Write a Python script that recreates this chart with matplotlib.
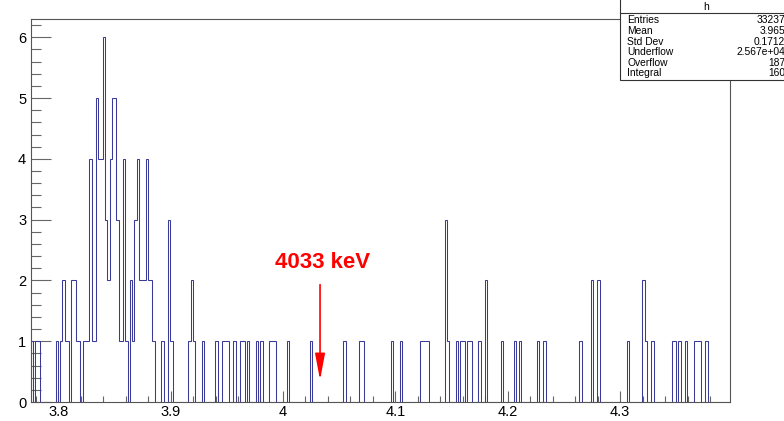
import numpy as np
import matplotlib
matplotlib.use("Agg")
import matplotlib.pyplot as plt
from matplotlib.patches import Rectangle
from matplotlib.lines import Line2D
from matplotlib.ticker import MultipleLocator, FuncFormatter

plt.rcParams['font.family'] = ['Liberation Sans', 'DejaVu Sans']

# histogram binning (MeV), 2 keV bins
bin_lo = 3.7758
bin_width = 0.002
n_bins = 311

# non-empty bins: bin centre (MeV) and content
energy_peak = [3.7768, 3.7808, 3.7828, 3.7988, 3.8028, 3.8048, 3.8068, 3.8088,
               3.8128, 3.8148, 3.8168, 3.8188, 3.8228, 3.8248, 3.8268, 3.8288,
               3.8308, 3.8328, 3.8348, 3.8368, 3.8388, 3.8408, 3.8428, 3.8448,
               3.8468, 3.8488, 3.8508, 3.8528, 3.8548, 3.8568, 3.8588, 3.8608,
               3.8648, 3.8668, 3.8688, 3.8708, 3.8728, 3.8748, 3.8768, 3.8788,
               3.8808, 3.8828, 3.8848, 3.8928, 3.8988, 3.9008]
counts_peak = [1, 1, 1, 1, 1, 2, 1, 1,
               2, 2, 1, 1, 1, 1, 1, 4,
               1, 1, 5, 4, 4, 6, 3, 2,
               4, 5, 5, 3, 1, 1, 4, 1,
               2, 1, 3, 4, 2, 2, 2, 4,
               2, 2, 1, 1, 3, 1]

energy_tail = [3.9168, 3.9188, 3.9208, 3.9288, 3.9408, 3.9468, 3.9488, 3.9508,
               3.9568, 3.9628, 3.9648, 3.9688, 3.9768, 3.9808, 3.9888, 3.9908,
               3.9928, 4.0048, 4.0248, 4.0548, 4.0688, 4.0708, 4.0968, 4.1048,
               4.1228, 4.1248, 4.1268, 4.1288, 4.1448, 4.1468, 4.1548, 4.1588,
               4.1608, 4.1648, 4.1668, 4.1748, 4.1808, 4.1948, 4.2068, 4.2108,
               4.2268, 4.2328, 4.2648, 4.2748, 4.2808, 4.3068, 4.3208, 4.3228,
               4.3288, 4.3468, 4.3488, 4.3528, 4.3588, 4.3668, 4.3688, 4.3708,
               4.3768]
counts_tail = [1, 2, 1, 1, 1, 1, 1, 1,
               1, 1, 1, 1, 1, 1, 1, 1,
               1, 1, 1, 1, 1, 1, 1, 1,
               1, 1, 1, 1, 3, 1, 1, 1,
               1, 1, 1, 1, 2, 1, 1, 1,
               1, 1, 1, 2, 2, 1, 2, 1,
               1, 1, 1, 1, 1, 1, 1, 1,
               1]

line_energy = 4.033
line_label = "4033 keV"

stats_title = "h"
stats_names = ["Entries", "Mean", "Std Dev", "Underflow", "Overflow", "Integral"]
stats_values = ["33237", "3.965", "0.1712", "2.567e+04", "187", "160"]

energy = energy_peak + energy_tail
counts = counts_peak + counts_tail
edges = bin_lo + bin_width * np.arange(n_bins + 1)

W, H = 784, 421
fig = plt.figure(figsize=(W / 100, H / 100), dpi=100)
ax = fig.add_axes([31 / W, 19 / H, 699 / W, 383 / H])

ax.hist(energy, bins=edges, weights=counts, histtype='step',
        color='#3a3a98', lw=0.75)

ax.set_xlim(edges[0], edges[-1])
ax.set_ylim(0, 6.3)

ax.xaxis.set_major_locator(MultipleLocator(0.1))
ax.xaxis.set_minor_locator(MultipleLocator(0.02))
ax.xaxis.set_major_formatter(FuncFormatter(lambda v, p: f"{v:g}"))
ax.yaxis.set_major_locator(MultipleLocator(1))
ax.yaxis.set_minor_locator(MultipleLocator(0.2))

ax.tick_params(which='both', direction='in', top=False, right=False,
               color='#666666', width=0.8, labelsize=10.5, labelcolor='black')
ax.tick_params(axis='y', which='major', length=14.5, pad=3.5)
ax.tick_params(axis='y', which='minor', length=7.2)
ax.tick_params(axis='x', which='major', length=8, pad=2.5)
ax.tick_params(axis='x', which='minor', length=4)

for s in ax.spines.values():
    s.set_color('#555555')
    s.set_linewidth(0.8)

# line marker annotation
ax.annotate('', xy=(line_energy, 0.36), xytext=(line_energy, 1.93),
            arrowprops=dict(arrowstyle='-|>,head_length=1.6,head_width=0.3',
                            color='red', lw=1.2, mutation_scale=10,
                            shrinkA=0, shrinkB=0))
ax.text(line_energy + 0.002, 2.29, line_label, color='red', fontsize=16,
        fontweight='bold', ha='center', va='center')

# stats box (runs off the right edge like the original)
box = Rectangle((620 / W, 1 - 80 / H), 200 / W, 82 / H, transform=fig.transFigure,
                facecolor='white', edgecolor='#333333', lw=0.8, zorder=10)
fig.add_artist(box)
fig.add_artist(Line2D([620 / W, 1], [1 - 13 / H, 1 - 13 / H],
                      transform=fig.transFigure, color='#333333', lw=0.8,
                      zorder=11))
fig.text(706 / W, 1 - 6.5 / H, stats_title, fontsize=7.5, ha='center',
         va='center', zorder=12)
row_y = [20, 31, 42, 52, 63, 73]
for name, val, y in zip(stats_names, stats_values, row_y):
    fig.text(627 / W, 1 - y / H, name, fontsize=7.4, ha='left', va='center',
             zorder=12)
    fig.text(785 / W, 1 - y / H, val, fontsize=7.4, ha='right', va='center',
             zorder=12)

fig.savefig('out.png', dpi=100)
